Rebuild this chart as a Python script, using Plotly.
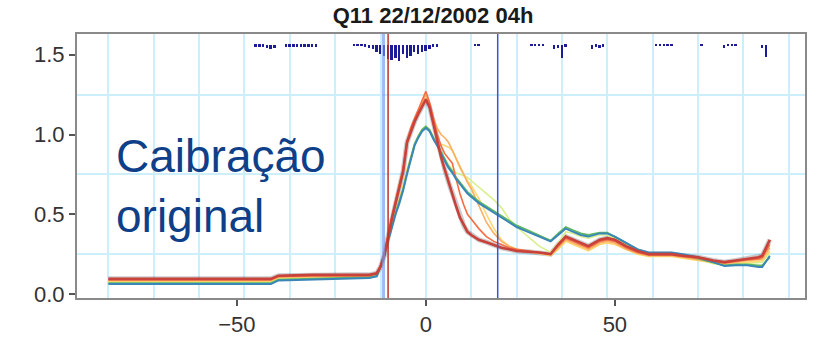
import plotly.graph_objects as go

# ---------------- data ----------------
hours = [-84, -70, -60, -50, -41, -39, -30, -20, -15, -13, -12, -11, -10, -9, -8,
         -7, -6, -5, -4, -3, -2, -1, 0, 1, 2, 3, 4, 5, 6, 7, 8, 9, 10, 11, 12,
         14, 16, 18, 20, 22, 24, 27, 30, 33, 35, 37, 39, 41, 43, 46, 48, 50,
         53, 56, 59, 62, 65, 68, 72, 76, 79, 82, 85, 88, 89, 91]

q_red = [0.095, 0.095, 0.093, 0.093, 0.095, 0.115, 0.12, 0.12, 0.12, 0.13,
         0.17, 0.24, 0.36, 0.47, 0.57, 0.67, 0.77, 0.95, 1.02, 1.08,
         1.13, 1.18, 1.22, 1.17, 1.07, 0.95, 0.86, 0.78, 0.70, 0.63,
         0.55, 0.48, 0.43, 0.39, 0.37, 0.34, 0.325, 0.305, 0.29, 0.28,
         0.27, 0.265, 0.26, 0.25, 0.31, 0.36, 0.34, 0.32, 0.30, 0.34,
         0.35, 0.34, 0.30, 0.27, 0.25, 0.25, 0.25, 0.24, 0.23, 0.21,
         0.20, 0.21, 0.22, 0.23, 0.24, 0.34]
q_orange = [0.09, 0.09, 0.088, 0.088, 0.09, 0.11, 0.115, 0.115, 0.115, 0.13,
            0.18, 0.26, 0.38, 0.49, 0.59, 0.69, 0.79, 0.96, 1.04, 1.10,
            1.16, 1.22, 1.27, 1.20, 1.10, 1.00, 0.93, 0.88, 0.85, 0.82,
            0.72, 0.63, 0.56, 0.50, 0.47, 0.41, 0.36, 0.33, 0.31, 0.29,
            0.28, 0.27, 0.26, 0.25, 0.30, 0.35, 0.33, 0.31, 0.29, 0.33,
            0.34, 0.33, 0.29, 0.26, 0.245, 0.245, 0.245, 0.235, 0.225, 0.205,
            0.195, 0.205, 0.215, 0.22, 0.23, 0.31]
q_lorange = [0.085, 0.085, 0.083, 0.083, 0.085, 0.105, 0.11, 0.11, 0.11, 0.125,
             0.17, 0.25, 0.37, 0.48, 0.58, 0.68, 0.78, 0.94, 1.02, 1.09,
             1.15, 1.20, 1.25, 1.18, 1.10, 1.04, 1.00, 0.98, 0.95, 0.90,
             0.85, 0.79, 0.74, 0.70, 0.66, 0.55, 0.45, 0.38, 0.33, 0.30,
             0.28, 0.265, 0.255, 0.245, 0.29, 0.34, 0.32, 0.30, 0.28, 0.32,
             0.33, 0.32, 0.28, 0.255, 0.24, 0.24, 0.24, 0.23, 0.215, 0.20,
             0.19, 0.20, 0.21, 0.215, 0.22, 0.29]
q_yellow = [0.08, 0.08, 0.078, 0.078, 0.08, 0.10, 0.105, 0.105, 0.105, 0.12,
            0.16, 0.23, 0.33, 0.43, 0.52, 0.60, 0.68, 0.78, 0.86, 0.94,
            0.99, 1.03, 1.05, 1.02, 0.98, 0.95, 0.94, 0.93, 0.92, 0.90,
            0.84, 0.79, 0.75, 0.71, 0.68, 0.60, 0.50, 0.41, 0.34, 0.30,
            0.28, 0.265, 0.255, 0.24, 0.28, 0.33, 0.31, 0.29, 0.27, 0.31,
            0.32, 0.31, 0.28, 0.25, 0.235, 0.235, 0.235, 0.225, 0.21, 0.195,
            0.185, 0.19, 0.20, 0.205, 0.21, 0.27]
q_ygreen = [0.075, 0.075, 0.073, 0.073, 0.075, 0.095, 0.10, 0.10, 0.10, 0.115,
            0.16, 0.23, 0.33, 0.42, 0.51, 0.59, 0.67, 0.77, 0.85, 0.93,
            0.99, 1.03, 1.05, 1.02, 0.98, 0.93, 0.89, 0.85, 0.81, 0.78,
            0.76, 0.75, 0.74, 0.73, 0.71, 0.67, 0.63, 0.59, 0.54, 0.47,
            0.42, 0.36, 0.30, 0.26, 0.32, 0.39, 0.38, 0.36, 0.35, 0.37,
            0.37, 0.35, 0.31, 0.27, 0.25, 0.25, 0.25, 0.24, 0.22, 0.19,
            0.18, 0.185, 0.19, 0.195, 0.20, 0.26]
q_green = [0.068, 0.068, 0.066, 0.066, 0.068, 0.09, 0.095, 0.10, 0.105, 0.115,
           0.17, 0.24, 0.34, 0.43, 0.51, 0.58, 0.66, 0.76, 0.85, 0.94,
           0.99, 1.03, 1.05, 1.03, 0.98, 0.94, 0.89, 0.84, 0.80, 0.77,
           0.73, 0.70, 0.67, 0.64, 0.62, 0.58, 0.55, 0.52, 0.49, 0.46,
           0.43, 0.40, 0.365, 0.335, 0.38, 0.42, 0.40, 0.38, 0.37, 0.385,
           0.385, 0.36, 0.32, 0.28, 0.255, 0.255, 0.255, 0.245, 0.22, 0.195,
           0.18, 0.185, 0.185, 0.18, 0.18, 0.23]
q_blue = [0.062, 0.062, 0.06, 0.06, 0.062, 0.085, 0.09, 0.095, 0.10, 0.11,
          0.17, 0.24, 0.33, 0.42, 0.50, 0.57, 0.65, 0.75, 0.84, 0.93,
          0.98, 1.02, 1.04, 1.02, 0.97, 0.93, 0.88, 0.83, 0.79, 0.76,
          0.72, 0.69, 0.66, 0.63, 0.61, 0.57, 0.54, 0.51, 0.48, 0.45,
          0.42, 0.39, 0.36, 0.33, 0.37, 0.41, 0.39, 0.37, 0.36, 0.38,
          0.38, 0.36, 0.32, 0.28, 0.26, 0.26, 0.26, 0.25, 0.23, 0.20,
          0.175, 0.18, 0.18, 0.17, 0.17, 0.24]

rain_hours = [-45, -44, -43, -42, -41, -40,
              -37, -36, -35, -34, -33, -32, -31, -30, -29,
              -19, -18, -17, -16, -15, -14, -13, -12, -11, -10, -9, -8, -7,
              -6, -5, -4, -3, -2, -1, 0, 1, 2, 3,
              13, 14, 28, 29, 30, 31, 34, 35, 36, 37,
              44, 45, 46, 47, 61, 62, 63, 64, 65, 73,
              79, 80, 81, 82, 89, 90]
rain_mm = [0.2, 0.2, 0.2, 0.3, 0.5, 0.3,
           0.2, 0.2, 0.2, 0.2, 0.2, 0.2, 0.2, 0.2, 0.2,
           0.15, 0.15, 0.15, 0.2, 0.3, 0.5, 0.8, 1.0, 1.2, 1.5, 1.6, 1.4, 1.7,
           1.0, 1.4, 1.2, 0.8, 1.0, 0.8, 0.7, 0.4, 0.2, 0.2,
           0.15, 0.15, 0.15, 0.15, 0.15, 0.15, 0.4, 0.3, 1.4, 0.2,
           0.4, 0.2, 0.3, 0.2, 0.15, 0.15, 0.15, 0.15, 0.15, 0.15,
           0.3, 0.15, 0.15, 0.15, 0.3, 1.3]

x_ticks = [-50, 0, 50]
y_ticks = [0.0, 0.5, 1.0, 1.5]
y_tick_text = ["0.0", "0.5", "1.0", "1.5"]
x_grid = [-84, -72, -60, -48, -36, -24, -12, 0, 12, 24, 36, 48, 60, 72, 84, 96]
y_grid = [0.25, 0.75, 1.25]
event_start = -10
event_pre = -11.2
event_end = 19

title_text = "Q11 22/12/2002 04h"
label_text = "Caibração<br>original"

# ---------------- figure ----------------
fig = go.Figure()

fig.add_trace(go.Bar(x=rain_hours, y=rain_mm, yaxis="y2", width=0.5,
                     marker=dict(color="#1c1c96", line=dict(width=0)),
                     showlegend=False, hoverinfo="skip"))

series = [
    (q_ygreen, "#d9ef8b", 1.6),
    (q_yellow, "#fdd870", 1.6),
    (q_lorange, "#fdae61", 1.6),
    (q_green, "#5fb860", 1.8),
    (q_orange, "#f46d43", 1.6),
    (q_blue, "#3a86b8", 2.0),
]
# soft shadow under the red line
fig.add_trace(go.Scatter(x=hours, y=q_red, mode="lines",
                         line=dict(color="rgba(70,70,70,0.28)", width=5),
                         showlegend=False, hoverinfo="skip"))
for vals, col, w in series:
    fig.add_trace(go.Scatter(x=hours, y=vals, mode="lines",
                             line=dict(color=col, width=w),
                             showlegend=False))
fig.add_trace(go.Scatter(x=hours, y=q_red, mode="lines",
                         line=dict(color="#c8413a", width=2.6),
                         showlegend=False))

shapes = [
    dict(type="line", xref="x", yref="paper", x0=event_pre, x1=event_pre, y0=0, y1=1,
         line=dict(color="rgba(110,150,240,0.65)", width=3), layer="above"),
    dict(type="line", xref="x", yref="paper", x0=event_start, x1=event_start, y0=0, y1=1,
         line=dict(color="#c0302a", width=1.5), layer="above"),
    dict(type="line", xref="x", yref="paper", x0=event_end, x1=event_end, y0=0, y1=1,
         line=dict(color="#3a55dd", width=1.5), layer="above"),
]

fig.update_layout(
    width=814, height=344,
    margin=dict(l=77, r=7, t=34, b=37),
    paper_bgcolor="white", plot_bgcolor="white",
    font=dict(family="Liberation Sans, Arial, sans-serif", color="#333333"),
    title=dict(text="<b>" + title_text + "</b>", x=0.532, xanchor="center",
               y=0.955, yanchor="middle", font=dict(size=22, color="#1a1a1a")),
    showlegend=False,
    bargap=0,
    shapes=shapes,
    annotations=[dict(text=label_text, xref="x", yref="y", x=-82.5, y=0.675,
                      xanchor="left", yanchor="middle", showarrow=False, align="left",
                      font=dict(size=46, color="#0f3f88",
                                family="Liberation Sans, Arial, sans-serif"))],
    xaxis=dict(range=[-92.3, 100.3], tickmode="array", tickvals=x_ticks,
               ticks="outside", ticklen=6, tickwidth=2, tickcolor="#555555",
               showgrid=False, zeroline=False,
               showline=True, mirror=True, linecolor="#8a8a8a", linewidth=2,
               tickfont=dict(size=22, color="#333333"),
               minor=dict(tickmode="array", tickvals=x_grid, showgrid=True,
                          gridcolor="#cdeefc", gridwidth=1.6, ticks="")),
    yaxis=dict(range=[-0.025, 1.63], tickmode="array", tickvals=y_ticks,
               ticktext=y_tick_text,
               ticks="outside", ticklen=6, tickwidth=2, tickcolor="#555555",
               showgrid=False, zeroline=False,
               showline=True, mirror=True, linecolor="#8a8a8a", linewidth=2,
               tickfont=dict(size=22, color="#333333"),
               minor=dict(tickmode="array", tickvals=y_grid, showgrid=True,
                          gridcolor="#cdeefc", gridwidth=1.6, ticks="")),
    yaxis2=dict(overlaying="y", range=[26.2, -1.1], visible=False,
                showgrid=False, zeroline=False),
)

fig.write_html("out.html")
